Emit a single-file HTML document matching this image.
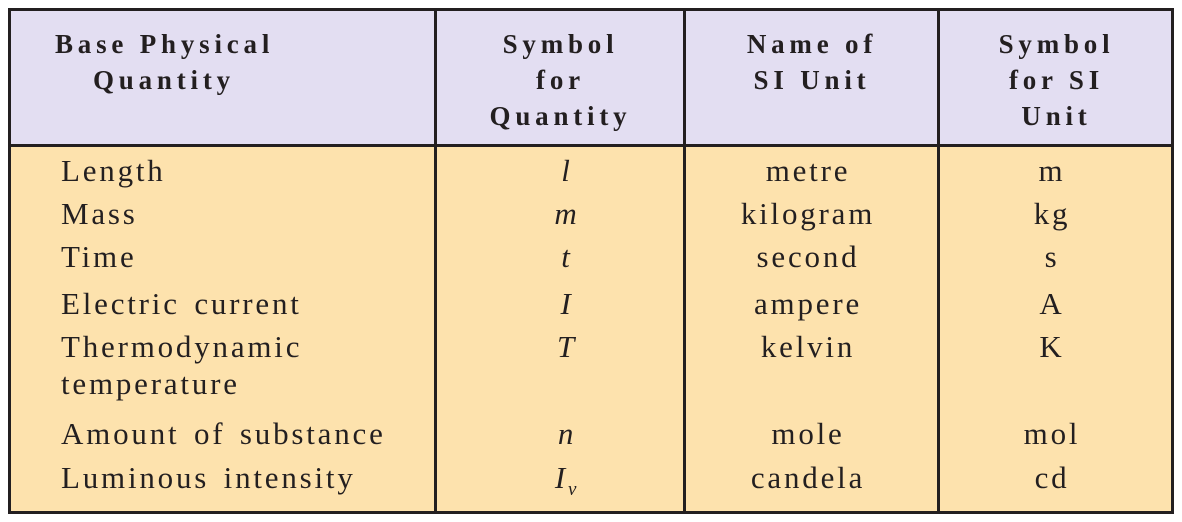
<!DOCTYPE html>
<html><head><style>
body{margin:0;width:1182px;height:522px;background:#fff;position:relative;overflow:hidden;font-family:"Liberation Serif",serif;color:#231f20}
.b{position:absolute;background:#231f20}
.t{position:absolute;font-size:31px;line-height:36px;white-space:nowrap;letter-spacing:2.8px;word-spacing:4px}
.h{font-weight:bold;font-size:27px;letter-spacing:4.8px;word-spacing:0}
.c{text-align:center}
i{font-style:italic}
</style></head><body>
<div style="position:absolute;left:9px;top:9px;width:1164px;height:137px;background:#e3def2"></div>
<div style="position:absolute;left:9px;top:146px;width:1164px;height:367px;background:#fde2ad"></div>
<div class="b" style="left:8px;top:8px;width:1166px;height:3px"></div>
<div class="b" style="left:8px;top:511px;width:1166px;height:3px"></div>
<div class="b" style="left:8px;top:8px;width:3px;height:506px"></div>
<div class="b" style="left:1171px;top:8px;width:3px;height:506px"></div>
<div class="b" style="left:8px;top:144px;width:1166px;height:3px"></div>
<div class="b" style="left:434px;top:8px;width:3px;height:506px"></div>
<div class="b" style="left:683px;top:8px;width:3px;height:506px"></div>
<div class="b" style="left:937px;top:8px;width:3px;height:506px"></div>

<div class="t h" style="left:55px;top:26px">Base Physical</div>
<div class="t h" style="left:93px;top:62px">Quantity</div>
<div class="t h c" style="left:436px;width:249px;top:26px">Symbol</div>
<div class="t h c" style="left:436px;width:249px;top:62px">for</div>
<div class="t h c" style="left:436px;width:249px;top:98px">Quantity</div>
<div class="t h c" style="left:685px;width:254px;top:26px">Name of</div>
<div class="t h c" style="left:685px;width:254px;top:62px">SI Unit</div>
<div class="t h c" style="left:939px;width:235px;top:26px">Symbol</div>
<div class="t h c" style="left:939px;width:235px;top:62px">for SI</div>
<div class="t h c" style="left:939px;width:235px;top:98px">Unit</div>

<div class="t" style="left:61px;top:153px">Length</div>
<div class="t" style="left:61px;top:196px">Mass</div>
<div class="t" style="left:61px;top:239px">Time</div>
<div class="t" style="left:61px;top:286px">Electric current</div>
<div class="t" style="left:61px;top:329px">Thermodynamic</div>
<div class="t" style="left:61px;top:366px">temperature</div>
<div class="t" style="left:61px;top:416px">Amount of substance</div>
<div class="t" style="left:61px;top:460px">Luminous intensity</div>

<div class="t c" style="left:436px;width:262px;top:153px"><i>l</i></div>
<div class="t c" style="left:436px;width:262px;top:196px"><i>m</i></div>
<div class="t c" style="left:436px;width:262px;top:239px"><i>t</i></div>
<div class="t c" style="left:436px;width:262px;top:286px"><i>I</i></div>
<div class="t c" style="left:436px;width:262px;top:329px"><i>T</i></div>
<div class="t c" style="left:436px;width:262px;top:416px"><i>n</i></div>
<div class="t c" style="left:436px;width:262px;top:460px"><i>I<sub style="font-size:19px">v</sub></i></div>

<div class="t c" style="left:685px;width:246px;top:153px">metre</div>
<div class="t c" style="left:685px;width:246px;top:196px">kilogram</div>
<div class="t c" style="left:685px;width:246px;top:239px">second</div>
<div class="t c" style="left:685px;width:246px;top:286px">ampere</div>
<div class="t c" style="left:685px;width:246px;top:329px">kelvin</div>
<div class="t c" style="left:685px;width:246px;top:416px">mole</div>
<div class="t c" style="left:685px;width:246px;top:460px">candela</div>

<div class="t c" style="left:939px;width:226px;top:153px">m</div>
<div class="t c" style="left:939px;width:226px;top:196px">kg</div>
<div class="t c" style="left:939px;width:226px;top:239px">s</div>
<div class="t c" style="left:939px;width:226px;top:286px">A</div>
<div class="t c" style="left:939px;width:226px;top:329px">K</div>
<div class="t c" style="left:939px;width:226px;top:416px">mol</div>
<div class="t c" style="left:939px;width:226px;top:460px">cd</div>
</body></html>
